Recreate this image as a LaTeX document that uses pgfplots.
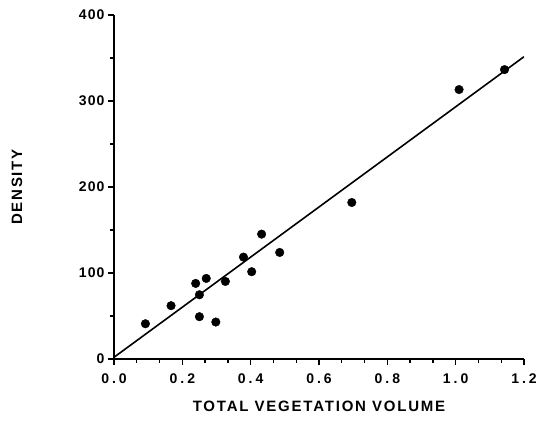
\documentclass[border=0pt]{standalone}
\usepackage{fontspec}
\setmainfont{Liberation Sans}
\newfontfamily\lblfont[LetterSpace=12]{Liberation Sans}
\newfontfamily\tickfont[LetterSpace=8]{Liberation Sans}
\usepackage{pgfplots}
\pgfplotsset{compat=1.18}

\begin{document}
\begin{tikzpicture}
	\begin{axis}[
	scale only axis,
	width=410pt, height=344pt,
	xmin=0, xmax=1.2,
	ymin=0, ymax=400,
	axis x line=bottom, axis y line=left,
	axis line style={-, line width=1.5pt},
	every tick/.style={black, line width=1.3pt},
	tick align=outside,
	major tick length=6pt, minor tick length=4pt,
	xtick={0,0.2,0.4,0.6,0.8,1.0,1.2},
	xticklabels={0\hspace{3pt}.\hspace{3pt}0,0\hspace{3pt}.\hspace{3pt}2,0\hspace{3pt}.\hspace{3pt}4,0\hspace{3pt}.\hspace{3pt}6,0\hspace{3pt}.\hspace{3pt}8,1\hspace{3pt}.\hspace{3pt}0,1\hspace{3pt}.\hspace{3pt}2},
	minor x tick num=2,
	ytick={0,100,200,300,400},
	minor y tick num=1,
	/pgf/number format/assume math mode=true,
	tick label style={font=\tickfont\bfseries\fontsize{14}{16}\selectfont},
	xticklabel style={yshift=-5pt},
	label style={font=\lblfont\bfseries\fontsize{15}{17}\selectfont},
	xlabel={TOTAL VEGETATION VOLUME},
	ylabel={DENSITY},
	xlabel style={at={(rel axis cs:0.5,0)}, anchor=center, yshift=-47pt},
	ylabel style={at={(rel axis cs:0,0.5)}, anchor=center, yshift=97pt},
	]
	% fitted line
	\addplot[black, line width=1.6pt, no marks] coordinates {(0,2) (1.2,351.5)};
	% observed plots
	\addplot[only marks, mark=*, mark size=4.3pt, black] coordinates {
(0.092,41.0)
(0.167,62.0)
(0.239,87.9)
(0.270,93.7)
(0.250,74.7)
(0.250,49.2)
(0.298,43.0)
(0.326,90.2)
(0.379,118.5)
(0.403,101.5)
(0.432,145.2)
(0.485,123.9)
(0.696,182.0)
(1.010,313.3)
(1.143,336.5)
	};
	\end{axis}
	\pgfresetboundingbox
	\path[use as bounding box] (-114pt,-72pt) rectangle (424pt,359pt);
\end{tikzpicture}
\end{document}
